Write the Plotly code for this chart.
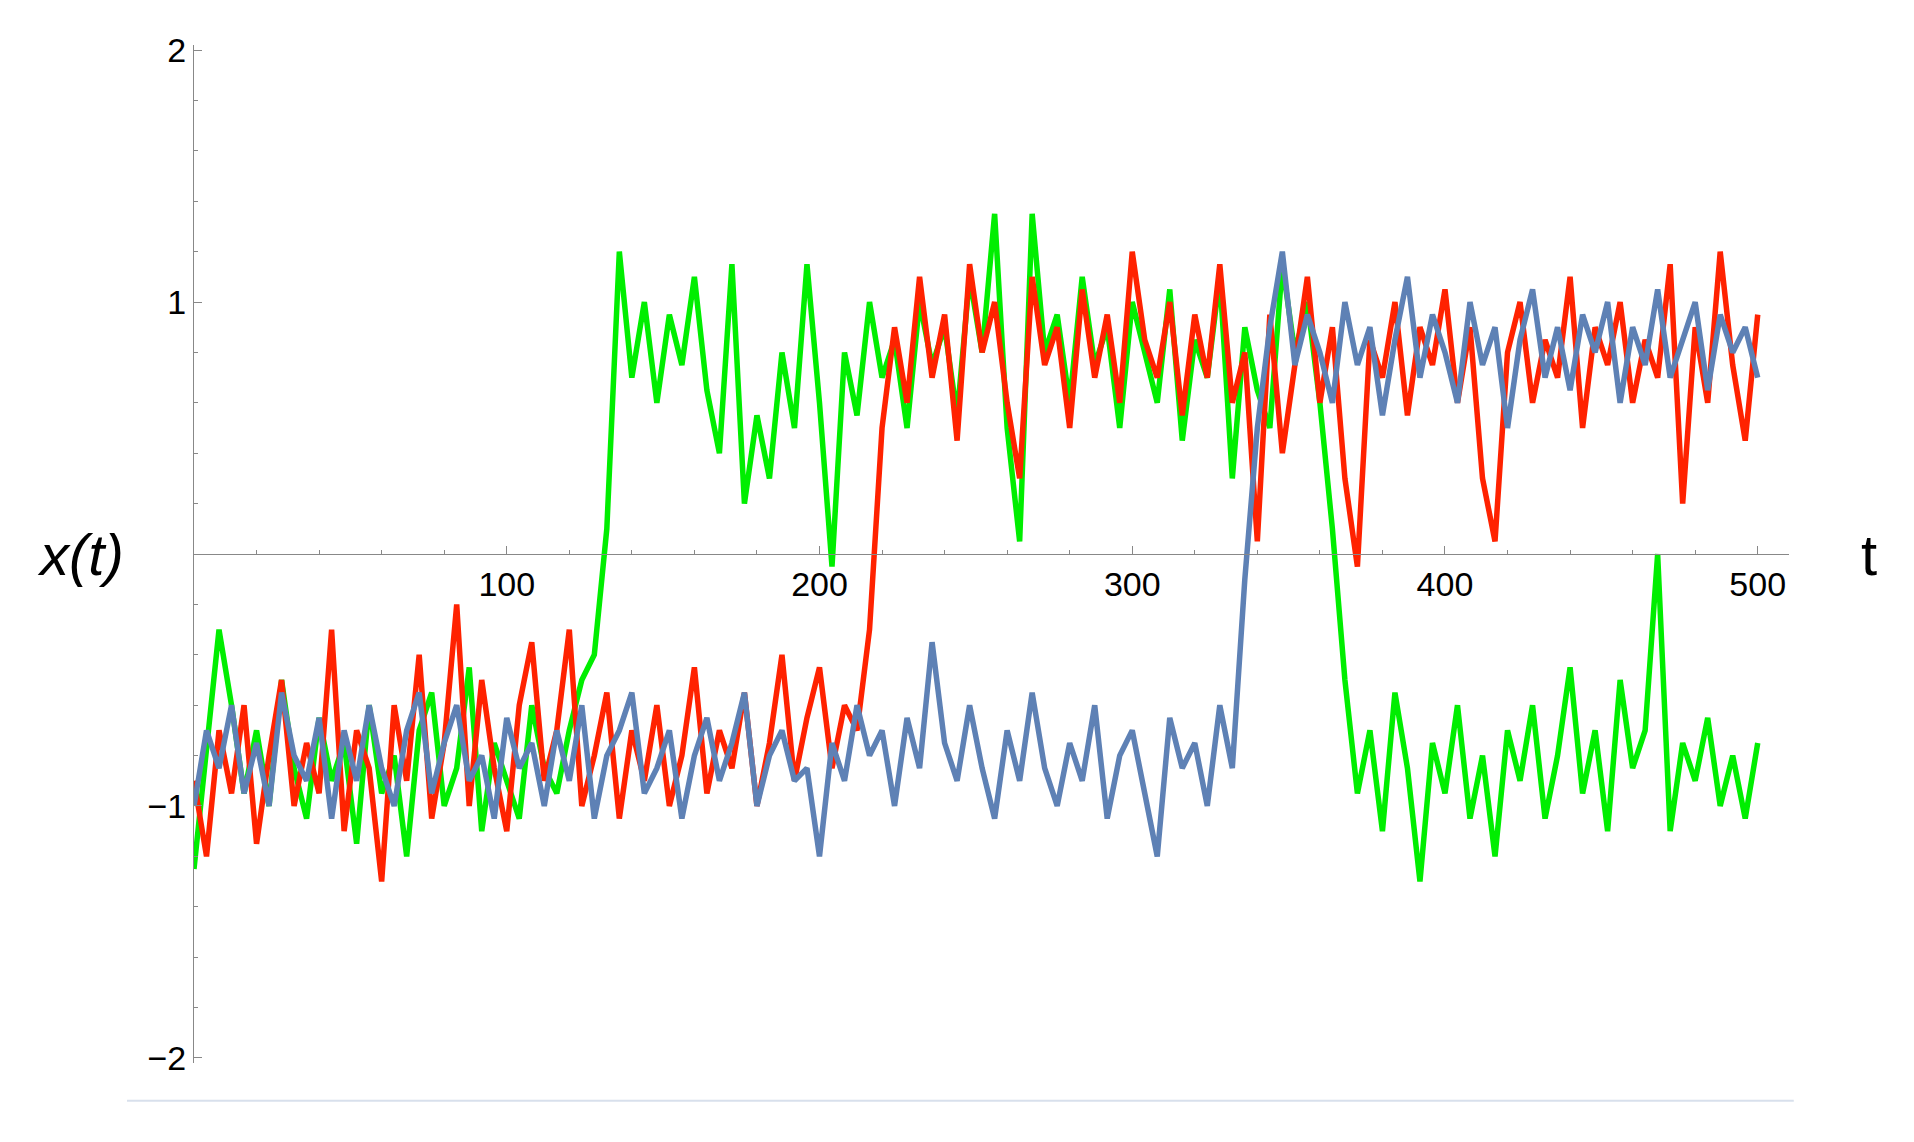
import plotly.graph_objects as go

t = list(range(0, 501, 4))
green = [-1.25,-0.75,-0.3,-0.6,-0.95,-0.7,-1.0,-0.5,-0.85,-1.05,
-0.65,-0.9,-0.75,-1.15,-0.6,-0.95,-0.8,-1.2,-0.7,-0.55,
-1.0,-0.85,-0.45,-1.1,-0.75,-0.9,-1.05,-0.6,-0.85,-0.95,
-0.7,-0.5,-0.4,0.1,1.2,0.7,1.0,0.6,0.95,0.75,
1.1,0.65,0.4,1.15,0.2,0.55,0.3,0.8,0.5,1.15,
0.6,-0.05,0.8,0.55,1.0,0.7,0.85,0.5,1.0,0.75,
0.9,0.55,1.1,0.8,1.35,0.5,0.05,1.35,0.8,0.95,
0.6,1.1,0.75,0.9,0.5,1.0,0.8,0.6,1.05,0.45,
0.85,0.7,1.1,0.3,0.9,0.65,0.5,1.15,0.8,1.0,
0.6,0.1,-0.5,-0.95,-0.7,-1.1,-0.55,-0.85,-1.3,-0.75,
-0.95,-0.6,-1.05,-0.8,-1.2,-0.7,-0.9,-0.6,-1.05,-0.8,
-0.45,-0.95,-0.7,-1.1,-0.5,-0.85,-0.7,0.0,-1.1,-0.75,
-0.9,-0.65,-1.0,-0.8,-1.05,-0.75]
red = [-0.9,-1.2,-0.7,-0.95,-0.6,-1.15,-0.8,-0.5,-1.0,-0.75,
-0.95,-0.3,-1.1,-0.7,-0.85,-1.3,-0.6,-0.9,-0.4,-1.05,
-0.75,-0.2,-1.0,-0.5,-0.85,-1.1,-0.6,-0.35,-0.9,-0.7,
-0.3,-1.0,-0.8,-0.55,-1.05,-0.7,-0.9,-0.6,-1.0,-0.8,
-0.45,-0.95,-0.7,-0.85,-0.55,-1.0,-0.75,-0.4,-0.9,-0.65,
-0.45,-0.85,-0.6,-0.7,-0.3,0.5,0.9,0.6,1.1,0.7,
0.95,0.45,1.15,0.8,1.0,0.6,0.3,1.1,0.75,0.9,
0.5,1.05,0.7,0.95,0.6,1.2,0.85,0.7,1.0,0.55,
0.95,0.7,1.15,0.6,0.8,0.05,0.95,0.4,0.75,1.1,
0.6,0.9,0.3,-0.05,0.85,0.7,1.0,0.55,0.9,0.75,
1.05,0.6,0.9,0.3,0.05,0.8,1.0,0.6,0.85,0.7,
1.1,0.5,0.9,0.75,1.0,0.6,0.85,0.7,1.15,0.2,
0.9,0.6,1.2,0.75,0.45,0.95]
blue = [-1.0,-0.7,-0.85,-0.6,-0.95,-0.75,-1.0,-0.55,-0.8,-0.9,
-0.65,-1.05,-0.7,-0.9,-0.6,-0.85,-1.0,-0.7,-0.55,-0.95,
-0.75,-0.6,-0.9,-0.8,-1.05,-0.65,-0.85,-0.75,-1.0,-0.7,
-0.9,-0.6,-1.05,-0.8,-0.7,-0.55,-0.95,-0.85,-0.7,-1.05,
-0.8,-0.65,-0.9,-0.75,-0.55,-1.0,-0.8,-0.7,-0.9,-0.85,
-1.2,-0.75,-0.9,-0.6,-0.8,-0.7,-1.0,-0.65,-0.85,-0.35,
-0.75,-0.9,-0.6,-0.85,-1.05,-0.7,-0.9,-0.55,-0.85,-1.0,
-0.75,-0.9,-0.6,-1.05,-0.8,-0.7,-0.95,-1.2,-0.65,-0.85,
-0.75,-1.0,-0.6,-0.85,-0.1,0.5,0.9,1.2,0.75,0.95,
0.8,0.6,1.0,0.75,0.9,0.55,0.85,1.1,0.7,0.95,
0.8,0.6,1.0,0.75,0.9,0.5,0.85,1.05,0.7,0.9,
0.65,0.95,0.8,1.0,0.6,0.9,0.75,1.05,0.7,0.85,
1.0,0.65,0.95,0.8,0.9,0.7]

x_ticks = [100, 200, 300, 400, 500]
y_ticks = [-2, -1, 1, 2]
y_labels = ["\u22122", "\u22121", "1", "2"]

fig = go.Figure()
for ys, c in [(green, "#00ee00"), (red, "#ff2200"), (blue, "#5e81b5")]:
    fig.add_trace(go.Scatter(x=t, y=ys, mode="lines", line=dict(color=c, width=5.5), showlegend=False))

axcol = "#888888"
fig.update_layout(
    width=1914, height=1142, plot_bgcolor="white", paper_bgcolor="white",
    margin=dict(l=186, r=133, t=37, b=87),
    font=dict(family="Liberation Sans, Arial", size=34, color="black"),
    xaxis=dict(range=[0, 510], anchor="free", position=0.5, showgrid=False, zeroline=False,
               showline=True, linecolor=axcol, linewidth=1,
               tickvals=x_ticks, ticks="inside", ticklen=8, tickcolor=axcol,
               minor=dict(dtick=20, ticks="inside", ticklen=4, tickcolor=axcol)),
    yaxis=dict(range=[-2.02, 2.02], showgrid=False, zeroline=False,
               showline=True, linecolor=axcol, linewidth=1,
               tickvals=y_ticks, ticktext=y_labels, ticks="inside", ticklen=8, tickcolor=axcol,
               minor=dict(tickvals=[v/5 for v in range(-10, 11)], ticks="inside", ticklen=4, tickcolor=axcol)),
    annotations=[
        dict(text="<i>x(t)</i>", x=-0.071, y=0.5, xref="paper", yref="paper", showarrow=False,
             font=dict(size=58), xanchor="center", yanchor="middle"),
        dict(text="t", x=1.05, y=0.5, xref="paper", yref="paper", showarrow=False,
             font=dict(size=58), xanchor="center", yanchor="middle"),
    ],
    shapes=[dict(type="line", xref="paper", yref="paper", x0=-0.042, x1=1.003, y0=-0.037, y1=-0.037,
                 line=dict(color="#d8e0ec", width=2))],
)
fig.write_html("out.html")
